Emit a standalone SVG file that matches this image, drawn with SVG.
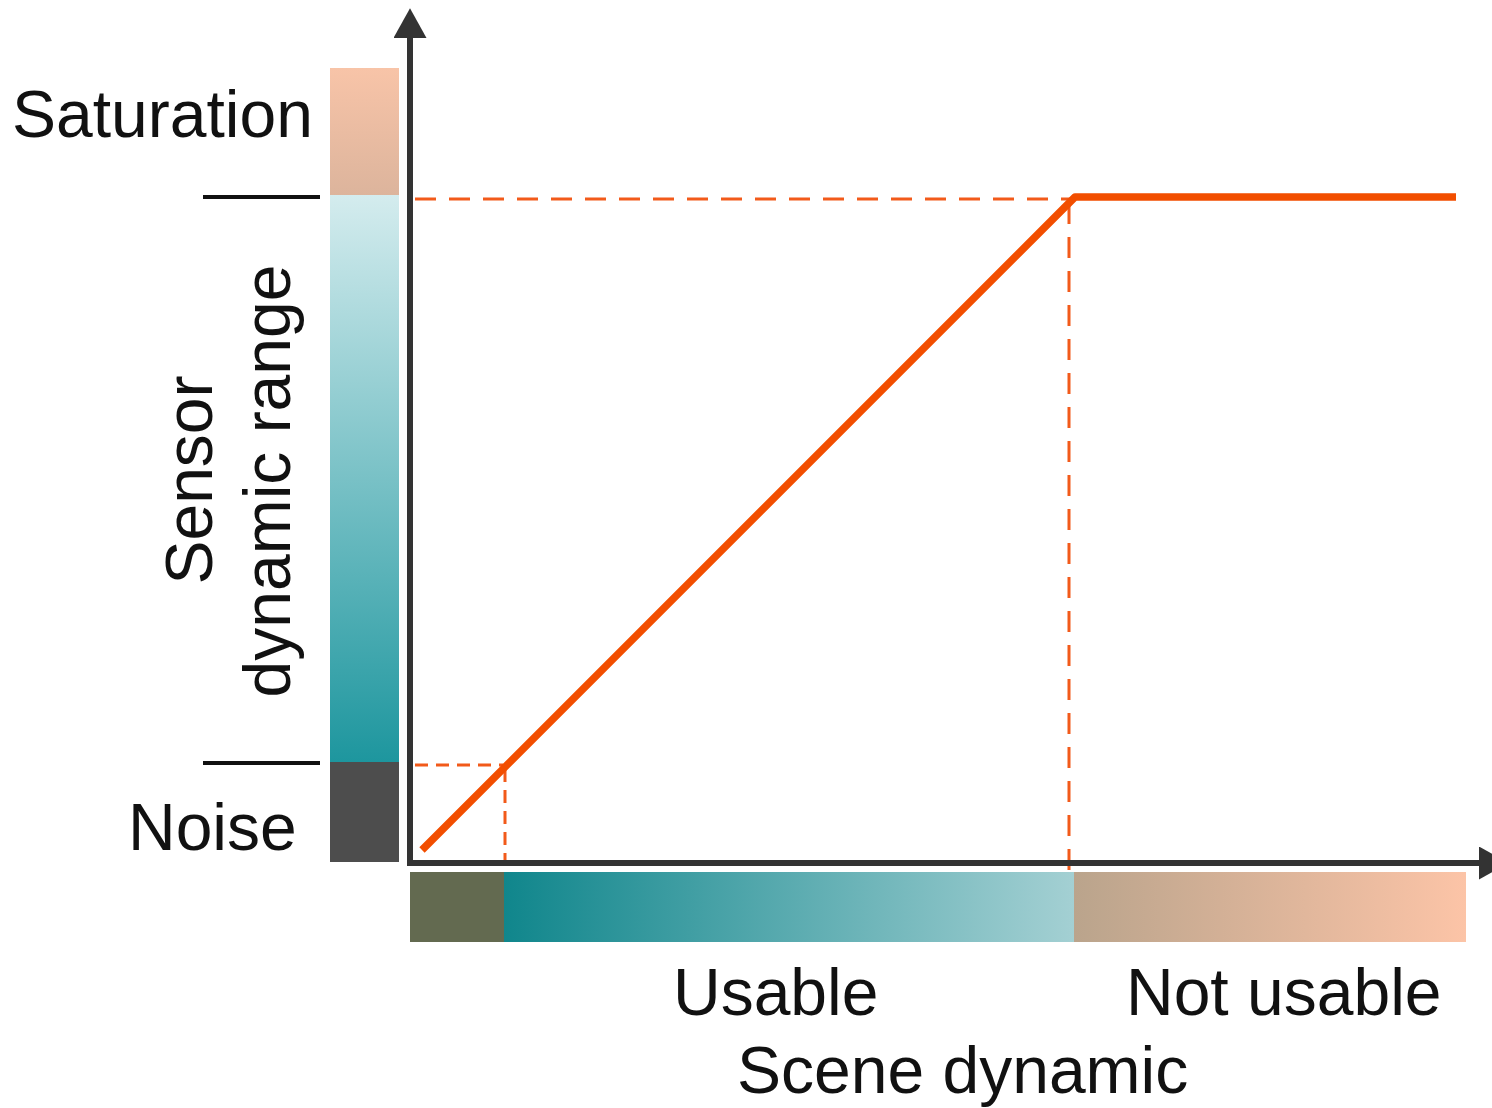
<svg xmlns="http://www.w3.org/2000/svg" width="1492" height="1108" viewBox="0 0 1492 1108">
  <style>
    .lbl { font-family: "Liberation Sans", Arial, sans-serif; font-size: 66px; fill: #111111; }
    .axis { stroke: #333333; stroke-width: 6; fill: none; }
    .tick { stroke: #111111; stroke-width: 4; }
    .dash { stroke: #F25A1A; stroke-width: 3; fill: none; stroke-dasharray: 21 13; }
    .dash-s { stroke: #F25A1A; stroke-width: 3; fill: none; stroke-dasharray: 13 8; }
    .curve { stroke: #F24E00; stroke-width: 7.5; fill: none; stroke-linejoin: round; }
  </style>
  <defs>
    <linearGradient id="gSat" x1="0" y1="0" x2="0" y2="1">
      <stop offset="0" stop-color="#F8C4A8"/>
      <stop offset="1" stop-color="#DCB49C"/>
    </linearGradient>
    <linearGradient id="gRange" x1="0" y1="0" x2="0" y2="1">
      <stop offset="0" stop-color="#D4ECEE"/>
      <stop offset="1" stop-color="#1D969E"/>
    </linearGradient>
    <linearGradient id="gUsable" x1="0" y1="0" x2="1" y2="0">
      <stop offset="0" stop-color="#10868C"/>
      <stop offset="1" stop-color="#A4D0D3"/>
    </linearGradient>
    <linearGradient id="gNotUsable" x1="0" y1="0" x2="1" y2="0">
      <stop offset="0" stop-color="#BAA48C"/>
      <stop offset="1" stop-color="#FCC4A7"/>
    </linearGradient>
    <marker id="arrowHead" viewBox="0 0 9 10" refX="0" refY="5" markerWidth="4.95" markerHeight="5.5" markerUnits="strokeWidth" orient="auto">
      <path d="M0,0 L9,5 L0,10 Z" fill="#333333"/>
    </marker>
  </defs>

  <!-- vertical sensor bar -->
  <g id="sensor-bar">
    <rect x="330" y="68" width="69" height="128" fill="url(#gSat)"/>
    <rect x="330" y="195" width="69" height="568" fill="url(#gRange)"/>
    <rect x="330" y="762" width="69" height="100" fill="#4D4D4D"/>
  </g>

  <!-- horizontal scene bar -->
  <g id="scene-bar">
    <rect x="410" y="872" width="95" height="70" fill="#636A50"/>
    <rect x="504" y="872" width="571" height="70" fill="url(#gUsable)"/>
    <rect x="1074" y="872" width="392" height="70" fill="url(#gNotUsable)"/>
  </g>

  <!-- range boundary ticks -->
  <g id="ticks">
    <line class="tick" x1="203" y1="197" x2="320" y2="197"/>
    <line class="tick" x1="203" y1="763" x2="320" y2="763"/>
  </g>

  <!-- labels -->
  <g id="label-saturation"><text class="lbl" x="12" y="137">Saturation</text></g>
  <g id="label-noise"><text class="lbl" x="128" y="850">Noise</text></g>
  <g id="label-sensor">
    <text class="lbl" text-anchor="middle" transform="translate(212,480) rotate(-90)">Sensor</text>
    <text class="lbl" text-anchor="middle" transform="translate(290,481) rotate(-90)">dynamic range</text>
  </g>
  <g id="label-usable"><text class="lbl" x="673" y="1015">Usable</text></g>
  <g id="label-not-usable"><text class="lbl" x="1126" y="1015">Not usable</text></g>
  <g id="label-scene"><text class="lbl" x="737" y="1093">Scene dynamic</text></g>

  <!-- axes, guides and response curve -->
  <g id="connectors">
    <line class="dash" x1="415" y1="199" x2="1072" y2="199"/>
    <line class="dash" x1="1069" y1="203" x2="1069" y2="872"/>
    <line class="dash-s" x1="415" y1="765" x2="503" y2="765"/>
    <line class="dash-s" x1="505" y1="769" x2="505" y2="872"/>
    <polyline class="curve" points="422,850 1075,197 1456,197"/>
    <line class="axis" x1="410" y1="863" x2="410" y2="38" marker-end="url(#arrowHead)"/>
    <line class="axis" x1="407" y1="863" x2="1479" y2="863" marker-end="url(#arrowHead)"/>
  </g>
</svg>
